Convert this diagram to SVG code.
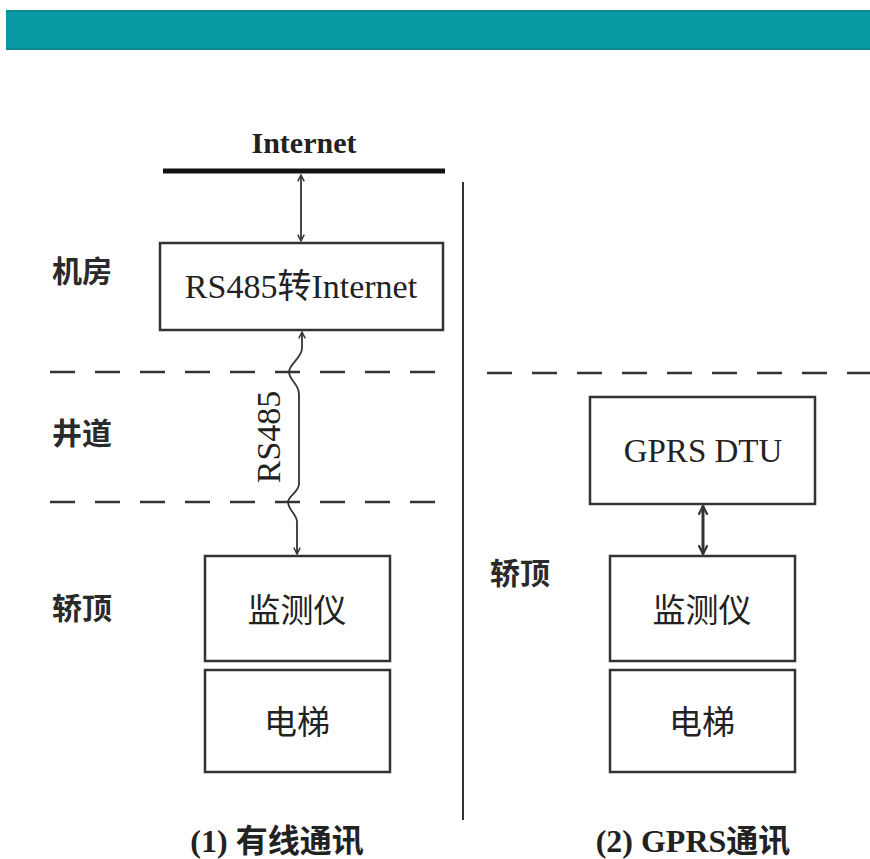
<svg xmlns="http://www.w3.org/2000/svg" width="870" height="859" viewBox="0 0 870 859">
<style>
.box{fill:#fff;stroke:#333;stroke-width:2.5}
.t{font-family:"Liberation Serif","Noto Sans CJK SC",serif;fill:#222;text-anchor:middle}
.lbl{font-family:"Noto Sans CJK SC","Liberation Sans",sans-serif;font-weight:bold;fill:#2a2a2a;font-size:30px}
.dash{stroke:#333;stroke-width:2.5;stroke-dasharray:25 20;fill:none}
.conn{stroke:#333;stroke-width:1.8;fill:none}
</style>
<defs>
<marker id="ah" viewBox="0 0 10 10" refX="9" refY="5" markerWidth="8" markerHeight="8" markerUnits="userSpaceOnUse" orient="auto-start-reverse">
<path d="M1,1 L9,5 L1,9" fill="none" stroke="#333" stroke-width="1.8"/>
</marker>
<marker id="ah2" viewBox="0 0 10 10" refX="9" refY="5" markerWidth="11" markerHeight="11" markerUnits="userSpaceOnUse" orient="auto-start-reverse">
<path d="M1,1 L9,5 L1,9" fill="none" stroke="#333" stroke-width="2"/>
</marker>
</defs>
<rect width="870" height="859" fill="#fff"/>
<rect x="6" y="10" width="864" height="40" fill="#0899a5"/>
<line x1="6" y1="11" x2="870" y2="11" stroke="#0c8a8e" stroke-width="2"/>
<line x1="6" y1="49" x2="870" y2="49" stroke="#0c8a8e" stroke-width="2"/>

<g id="internet">
<line x1="163" y1="171" x2="445" y2="171" stroke="#111" stroke-width="5"/>
<text class="t" x="304" y="153" font-size="30" font-weight="bold">Internet</text>
</g>

<line id="divider" x1="463" y1="182" x2="463" y2="820" stroke="#333" stroke-width="2"/>

<g id="zones">
<line class="dash" x1="50" y1="372" x2="445" y2="372"/>
<line class="dash" x1="50" y1="502" x2="445" y2="502"/>
<line class="dash" x1="487" y1="373" x2="870" y2="373"/>
<text class="lbl" x="52" y="282">机房</text>
<text class="lbl" x="52" y="444">井道</text>
<text class="lbl" x="52" y="619">轿顶</text>
<text class="lbl" x="490" y="584">轿顶</text>
</g>

<g id="rs485conv">
<rect class="box" x="160" y="243" width="283" height="87"/>
<text class="t" x="301" y="298" font-size="34">RS485转Internet</text>
</g>

<g id="monitor1">
<rect class="box" x="205" y="556" width="185" height="105"/>
<text class="t" x="297" y="622" font-size="33">监测仪</text>
</g>
<g id="elevator1">
<rect class="box" x="205" y="670" width="185" height="102"/>
<text class="t" x="297" y="734" font-size="33">电梯</text>
</g>

<g id="gprsdtu">
<rect class="box" x="590" y="397" width="225" height="107"/>
<text class="t" x="703" y="462" font-size="33">GPRS DTU</text>
</g>
<g id="monitor2">
<rect class="box" x="610" y="556" width="185" height="105"/>
<text class="t" x="702" y="622" font-size="33">监测仪</text>
</g>
<g id="elevator2">
<rect class="box" x="610" y="670" width="185" height="102"/>
<text class="t" x="702" y="734" font-size="33">电梯</text>
</g>

<g id="connectors">
<line class="conn" x1="301" y1="175" x2="301" y2="241" marker-start="url(#ah)" marker-end="url(#ah)"/>
<path class="conn" d="M302,332 L302,348 C302,358 289,364 289,372 C289,380 299,384 299,394 L299,484 C299,492 288,496 288,502 C288,510 297,514 297,522 L297,554" marker-start="url(#ah)" marker-end="url(#ah)"/>
<line x1="703" y1="506" x2="703" y2="554" stroke="#333" stroke-width="3" marker-start="url(#ah2)" marker-end="url(#ah2)"/>
<text class="t" transform="translate(280,437) rotate(-90)" font-size="34">RS485</text>
</g>

<g id="captions">
<text class="t" x="277" y="852" font-size="32" font-weight="bold">(1) 有线通讯</text>
<text class="t" x="693" y="852" font-size="32" font-weight="bold">(2) GPRS通讯</text>
</g>
</svg>
